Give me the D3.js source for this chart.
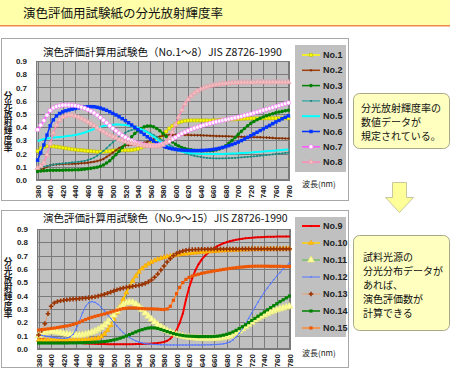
<!DOCTYPE html>
<html><head><meta charset="utf-8">
<script src="https://cdn.jsdelivr.net/npm/d3@7"></script>
<style>body{margin:0;background:#fff;} svg{display:block;}</style>
</head><body>
<svg id="c" width="450" height="375"></svg>
<script>
// ---------------- DATA ----------------
const headerTitle = "演色評価用試験紙の分光放射輝度率";
const topTitle = "演色評価計算用試験色（No.1～8）JIS Z8726-1990";
const bottomTitle = "演色評価計算用試験色（No.9～15）JIS Z8726-1990";
const yAxisTitle = "分光放射輝度率";
const xAxisTitle = "波長(nm)";
const topNote = ["分光放射輝度率の", "数値データが", "規定されている。"];
const bottomNote = ["試料光源の", "分光分布データが", "あれば、", "演色評価数が", "計算できる"];
const wavelengths = [380,385,390,395,400,405,410,415,420,425,430,435,440,445,450,455,460,465,470,475,480,485,490,495,500,505,510,515,520,525,530,535,540,545,550,555,560,565,570,575,580,585,590,595,600,605,610,615,620,625,630,635,640,645,650,655,660,665,670,675,680,685,690,695,700,705,710,715,720,725,730,735,740,745,750,755,760,765,770,775,780];
const xTickLabels = ["380","400","420","440","460","480","500","520","540","560","580","600","620","640","660","680","700","720","740","760","780"];
const yTickLabels = ["0.0","0.1","0.2","0.3","0.4","0.5","0.6","0.7","0.8","0.9"];
const topNames = ["No.1","No.2","No.3","No.4","No.5","No.6","No.7","No.8"];
const bottomNames = ["No.9","No.10","No.11","No.12","No.13","No.14","No.15"];

const no1 = [0.219,0.239,0.252,0.256,0.256,0.254,0.252,0.248,0.244,0.240,0.237,0.232,0.230,0.226,0.225,0.222,0.220,0.218,0.216,0.214,0.214,0.214,0.216,0.218,0.223,0.225,0.226,0.226,0.225,0.225,0.227,0.230,0.236,0.245,0.253,0.262,0.272,0.283,0.298,0.318,0.341,0.367,0.390,0.409,0.424,0.435,0.442,0.448,0.450,0.451,0.451,0.451,0.451,0.451,0.450,0.450,0.451,0.451,0.453,0.454,0.455,0.457,0.458,0.460,0.462,0.463,0.464,0.465,0.466,0.466,0.466,0.466,0.467,0.467,0.467,0.467,0.467,0.467,0.467,0.467,0.467];
const no2 = [0.070,0.079,0.089,0.101,0.111,0.116,0.118,0.120,0.121,0.122,0.122,0.122,0.123,0.124,0.127,0.128,0.131,0.134,0.138,0.143,0.150,0.159,0.174,0.190,0.207,0.225,0.242,0.253,0.260,0.264,0.267,0.269,0.272,0.276,0.282,0.289,0.299,0.309,0.322,0.329,0.335,0.339,0.341,0.341,0.342,0.342,0.342,0.341,0.341,0.339,0.339,0.338,0.338,0.337,0.336,0.335,0.334,0.332,0.332,0.331,0.331,0.330,0.329,0.328,0.328,0.327,0.326,0.325,0.324,0.324,0.324,0.323,0.322,0.321,0.320,0.318,0.316,0.315,0.315,0.314,0.314];
const no3 = [0.065,0.068,0.070,0.072,0.073,0.073,0.074,0.074,0.074,0.075,0.075,0.076,0.077,0.078,0.080,0.082,0.085,0.088,0.092,0.097,0.104,0.114,0.128,0.146,0.168,0.192,0.218,0.245,0.272,0.300,0.327,0.352,0.373,0.390,0.402,0.408,0.408,0.402,0.390,0.373,0.352,0.330,0.308,0.288,0.271,0.257,0.246,0.238,0.232,0.228,0.225,0.223,0.222,0.221,0.221,0.222,0.224,0.228,0.235,0.245,0.259,0.277,0.298,0.321,0.345,0.368,0.390,0.410,0.428,0.443,0.456,0.467,0.477,0.486,0.494,0.501,0.508,0.514,0.519,0.524,0.528];
const no4 = [0.085,0.093,0.100,0.106,0.111,0.116,0.120,0.123,0.125,0.128,0.130,0.133,0.135,0.138,0.141,0.145,0.151,0.159,0.170,0.184,0.201,0.220,0.241,0.263,0.285,0.306,0.326,0.343,0.358,0.370,0.378,0.382,0.383,0.380,0.374,0.365,0.354,0.341,0.327,0.312,0.297,0.282,0.267,0.253,0.240,0.228,0.217,0.207,0.198,0.190,0.183,0.178,0.174,0.170,0.167,0.165,0.164,0.163,0.163,0.164,0.164,0.165,0.166,0.168,0.169,0.171,0.173,0.175,0.177,0.179,0.181,0.184,0.186,0.189,0.191,0.194,0.197,0.200,0.202,0.205,0.207];
const no5 = [0.295,0.303,0.310,0.314,0.317,0.320,0.323,0.326,0.328,0.331,0.334,0.337,0.341,0.346,0.352,0.359,0.367,0.376,0.385,0.394,0.402,0.408,0.413,0.416,0.418,0.419,0.419,0.418,0.416,0.412,0.407,0.401,0.394,0.385,0.374,0.361,0.346,0.329,0.311,0.293,0.276,0.261,0.248,0.237,0.228,0.221,0.215,0.210,0.206,0.203,0.201,0.199,0.198,0.197,0.196,0.196,0.196,0.196,0.197,0.197,0.198,0.199,0.200,0.201,0.202,0.204,0.205,0.207,0.208,0.210,0.212,0.214,0.215,0.217,0.219,0.221,0.223,0.225,0.227,0.229,0.231];
const no6 = [0.150,0.205,0.265,0.340,0.410,0.455,0.485,0.503,0.515,0.523,0.530,0.536,0.541,0.546,0.550,0.552,0.554,0.555,0.554,0.550,0.544,0.536,0.527,0.516,0.504,0.492,0.478,0.464,0.449,0.433,0.416,0.399,0.381,0.363,0.345,0.327,0.310,0.294,0.280,0.268,0.257,0.248,0.241,0.235,0.231,0.228,0.226,0.224,0.223,0.222,0.222,0.222,0.223,0.224,0.226,0.228,0.231,0.235,0.240,0.246,0.252,0.260,0.268,0.277,0.287,0.298,0.310,0.322,0.335,0.348,0.361,0.374,0.387,0.400,0.413,0.426,0.439,0.451,0.463,0.474,0.485];
const no7 = [0.380,0.415,0.450,0.490,0.525,0.545,0.555,0.562,0.566,0.567,0.567,0.565,0.562,0.557,0.551,0.543,0.533,0.521,0.507,0.490,0.472,0.452,0.432,0.411,0.391,0.372,0.354,0.337,0.322,0.308,0.296,0.286,0.278,0.271,0.266,0.262,0.260,0.260,0.262,0.266,0.273,0.283,0.295,0.309,0.323,0.337,0.350,0.362,0.373,0.383,0.392,0.400,0.408,0.415,0.422,0.428,0.434,0.440,0.446,0.451,0.456,0.461,0.466,0.471,0.476,0.482,0.488,0.494,0.500,0.507,0.514,0.521,0.528,0.535,0.542,0.549,0.556,0.563,0.570,0.577,0.584];
const no8 = [0.090,0.105,0.130,0.190,0.275,0.355,0.415,0.453,0.475,0.487,0.491,0.490,0.484,0.475,0.464,0.452,0.439,0.425,0.410,0.395,0.380,0.366,0.352,0.339,0.327,0.316,0.306,0.297,0.289,0.282,0.276,0.271,0.267,0.263,0.260,0.257,0.255,0.254,0.254,0.257,0.265,0.283,0.315,0.362,0.418,0.476,0.529,0.574,0.609,0.636,0.657,0.673,0.686,0.696,0.704,0.711,0.716,0.721,0.725,0.728,0.730,0.732,0.734,0.735,0.736,0.737,0.737,0.738,0.738,0.738,0.739,0.739,0.739,0.739,0.739,0.739,0.739,0.739,0.739,0.739,0.739];
const no9 = [0.080,0.076,0.072,0.069,0.066,0.063,0.060,0.058,0.056,0.054,0.052,0.050,0.048,0.046,0.044,0.042,0.041,0.040,0.039,0.038,0.037,0.037,0.036,0.036,0.036,0.036,0.036,0.036,0.036,0.036,0.036,0.037,0.037,0.038,0.039,0.040,0.041,0.043,0.045,0.048,0.053,0.062,0.077,0.102,0.140,0.195,0.265,0.370,0.460,0.530,0.590,0.635,0.670,0.698,0.720,0.740,0.757,0.771,0.783,0.793,0.801,0.808,0.814,0.819,0.823,0.827,0.830,0.833,0.835,0.837,0.838,0.839,0.840,0.841,0.842,0.842,0.843,0.843,0.843,0.844,0.844];
const no10 = [0.066,0.066,0.067,0.067,0.068,0.068,0.068,0.068,0.068,0.068,0.068,0.068,0.068,0.069,0.069,0.070,0.071,0.073,0.076,0.082,0.093,0.112,0.140,0.178,0.223,0.272,0.323,0.374,0.423,0.468,0.510,0.547,0.578,0.603,0.623,0.639,0.652,0.663,0.672,0.680,0.687,0.693,0.698,0.702,0.706,0.709,0.712,0.715,0.717,0.720,0.722,0.724,0.726,0.728,0.730,0.732,0.734,0.735,0.737,0.738,0.740,0.741,0.742,0.743,0.744,0.745,0.746,0.747,0.748,0.749,0.749,0.750,0.750,0.751,0.751,0.752,0.752,0.752,0.753,0.753,0.753];
const no11 = [0.100,0.110,0.120,0.127,0.130,0.129,0.126,0.121,0.116,0.111,0.107,0.104,0.103,0.104,0.106,0.110,0.116,0.124,0.134,0.146,0.160,0.178,0.200,0.226,0.254,0.283,0.310,0.332,0.346,0.352,0.349,0.337,0.318,0.295,0.270,0.246,0.223,0.202,0.183,0.166,0.151,0.138,0.127,0.117,0.109,0.102,0.096,0.091,0.087,0.084,0.082,0.080,0.079,0.078,0.078,0.078,0.079,0.080,0.082,0.085,0.090,0.097,0.107,0.120,0.135,0.151,0.168,0.185,0.201,0.217,0.231,0.244,0.256,0.267,0.277,0.286,0.294,0.301,0.308,0.314,0.320];
const no12 = [0.105,0.102,0.098,0.094,0.090,0.086,0.083,0.081,0.080,0.082,0.090,0.110,0.150,0.210,0.270,0.320,0.348,0.355,0.350,0.335,0.312,0.286,0.258,0.229,0.200,0.172,0.146,0.123,0.103,0.086,0.072,0.061,0.052,0.046,0.041,0.038,0.036,0.034,0.033,0.032,0.031,0.031,0.030,0.030,0.030,0.030,0.030,0.030,0.030,0.030,0.030,0.030,0.030,0.031,0.031,0.032,0.033,0.034,0.036,0.039,0.044,0.053,0.068,0.090,0.118,0.152,0.190,0.230,0.271,0.312,0.352,0.390,0.425,0.458,0.490,0.520,0.548,0.574,0.598,0.620,0.645];
const no13 = [0.105,0.140,0.190,0.265,0.320,0.345,0.356,0.362,0.366,0.369,0.372,0.374,0.376,0.378,0.380,0.382,0.385,0.388,0.392,0.397,0.403,0.410,0.418,0.427,0.436,0.444,0.451,0.457,0.462,0.466,0.470,0.474,0.478,0.484,0.492,0.503,0.518,0.538,0.563,0.592,0.622,0.652,0.678,0.700,0.716,0.727,0.735,0.740,0.743,0.745,0.746,0.747,0.748,0.748,0.749,0.749,0.749,0.749,0.750,0.750,0.750,0.750,0.750,0.750,0.750,0.751,0.751,0.751,0.751,0.751,0.751,0.751,0.751,0.751,0.751,0.751,0.751,0.751,0.751,0.751,0.751];
const no14 = [0.045,0.045,0.045,0.045,0.045,0.045,0.045,0.045,0.045,0.045,0.046,0.046,0.046,0.047,0.047,0.048,0.049,0.050,0.051,0.052,0.054,0.056,0.059,0.063,0.068,0.074,0.081,0.089,0.098,0.108,0.118,0.128,0.137,0.145,0.152,0.157,0.159,0.158,0.154,0.147,0.139,0.131,0.123,0.116,0.110,0.105,0.101,0.098,0.096,0.095,0.094,0.093,0.093,0.093,0.093,0.093,0.094,0.096,0.099,0.104,0.110,0.118,0.128,0.140,0.153,0.167,0.182,0.198,0.214,0.230,0.246,0.262,0.278,0.294,0.310,0.325,0.340,0.355,0.369,0.383,0.397];
const no15 = [0.142,0.145,0.148,0.151,0.154,0.157,0.161,0.165,0.169,0.173,0.178,0.184,0.192,0.201,0.211,0.221,0.230,0.238,0.245,0.251,0.257,0.263,0.270,0.277,0.284,0.291,0.298,0.303,0.306,0.308,0.308,0.307,0.305,0.303,0.302,0.301,0.301,0.300,0.299,0.297,0.296,0.300,0.320,0.365,0.415,0.462,0.498,0.522,0.537,0.547,0.555,0.561,0.567,0.572,0.577,0.581,0.585,0.589,0.593,0.597,0.600,0.604,0.607,0.610,0.613,0.615,0.617,0.619,0.620,0.621,0.621,0.621,0.621,0.621,0.620,0.620,0.620,0.620,0.619,0.619,0.619];

const topValues = [no1,no2,no3,no4,no5,no6,no7,no8];
const bottomValues = [no9,no10,no11,no12,no13,no14,no15];

// ---------------- STYLES ----------------
const JP = "'Noto Sans CJK JP','Noto Sans',sans-serif";
const NUM = "'Liberation Sans',Arial,sans-serif";
const topStyles = [
  {line:"#FFFF00", w:1.5, sym:d3.symbolSquare, size:9, fill:"#FFFF00", stroke:"#B8B800"},
  {line:"#A0400A", w:1.5, sym:d3.symbolCross, size:4, fill:"#7A2A00", stroke:"none"},
  {line:"#008000", w:1.5, sym:d3.symbolCircle, size:10, fill:"#008000", stroke:"none"},
  {line:"#2AA5A0", w:1.2, sym:d3.symbolSquare, size:3, fill:"#1E7F7A", stroke:"none"},
  {line:"#00FFFF", w:2, sym:null},
  {line:"#0033FF", w:1.5, sym:d3.symbolSquare, size:12, fill:"#0033FF", stroke:"none"},
  {line:"#FF55FF", w:1.5, sym:d3.symbolCircle, size:14, fill:"#FFFFFF", stroke:"#FF66FF"},
  {line:"#FF88BB", w:1.5, sym:d3.symbolTriangle, size:12, fill:"#F4C0C0", stroke:"#E89AA8"}
];
const bottomStyles = [
  {line:"#FF0000", w:2, sym:d3.symbolSquare, size:2, fill:"#B00000", stroke:"none"},
  {line:"#FFD000", w:1.5, sym:d3.symbolTriangle, size:10, fill:"#FFCC00", stroke:"#FF9900"},
  {line:"#55BB44", w:1, sym:d3.symbolTriangle, size:22, fill:"#FFFF99", stroke:"#E8E880"},
  {line:"#5577FF", w:1, sym:d3.symbolSquare, size:2, fill:"#5577FF", stroke:"none"},
  {line:"#E8A070", w:1, sym:d3.symbolCross, size:12, fill:"#993300", stroke:"none"},
  {line:"#008000", w:1.5, sym:d3.symbolSquare, size:10, fill:"#008000", stroke:"none"},
  {line:"#FF8833", w:1.5, sym:d3.symbolSquare, size:10, fill:"#EE5500", stroke:"none"}
];

const svg = d3.select("#c");

// header band
svg.append("rect").attr("x",0).attr("y",0).attr("width",450).attr("height",25).attr("fill","#FFFFAA");
svg.append("rect").attr("x",0).attr("y",25).attr("width",450).attr("height",1.5).attr("fill","#EE8A50");
svg.append("text").attr("x",23).attr("y",18).attr("font-family",JP).attr("font-size",12.5).attr("fill","#111").text(headerTitle);

function drawChart(cfg){
  const g = svg.append("g");
  g.append("rect").attr("x",cfg.frame[0]+0.5).attr("y",cfg.frame[1]+0.5)
    .attr("width",cfg.frame[2]).attr("height",cfg.frame[3])
    .attr("fill","#fff").attr("stroke","#A8A8A8");
  g.append("text").attr("x",cfg.titleX).attr("y",cfg.titleY).attr("font-family",JP)
    .attr("font-size",10.5).attr("fill","#111").text(cfg.title);

  const x = d3.scaleLinear().domain([380,780]).range([cfg.left+1.6, cfg.right-1.6]);
  const y = d3.scaleLinear().domain([0,0.9]).range([cfg.bottom, cfg.top]);
  const yTicks = yTickLabels.map(Number);
  const xTicks = xTickLabels.map(Number);

  g.append("rect").attr("x",cfg.left).attr("y",cfg.top).attr("width",cfg.right-cfg.left)
    .attr("height",cfg.bottom-cfg.top).attr("fill","#C0C0C0");
  g.selectAll(".hg").data(yTicks).join("line")
    .attr("x1",cfg.left).attr("x2",cfg.right)
    .attr("y1",d=>Math.round(y(d))+0.5).attr("y2",d=>Math.round(y(d))+0.5)
    .attr("stroke","#7A7A7A").attr("stroke-width",1);
  g.selectAll(".vg").data(xTicks).join("line")
    .attr("y1",cfg.top).attr("y2",cfg.bottom)
    .attr("x1",d=>Math.round(x(d))+0.5).attr("x2",d=>Math.round(x(d))+0.5)
    .attr("stroke","#7A7A7A").attr("stroke-width",1);
  g.append("rect").attr("x",cfg.left+0.5).attr("y",cfg.top+0.5).attr("width",cfg.right-cfg.left-1)
    .attr("height",cfg.bottom-cfg.top-1).attr("fill","none").attr("stroke","#7A7A7A");

  // axes
  const ya = g.append("g").attr("transform",`translate(${cfg.left},0)`)
    .call(d3.axisLeft(y).tickValues(yTicks).tickFormat((d,i)=>yTickLabels[i]).tickSize(0).tickPadding(9));
  ya.select(".domain").remove();
  ya.selectAll("text").attr("font-family",NUM).attr("font-size",8).attr("font-weight","bold").attr("fill","#222");
  const xa = g.append("g").attr("transform",`translate(0,${cfg.bottom})`)
    .call(d3.axisBottom(x).tickValues(xTicks).tickFormat((d,i)=>xTickLabels[i]).tickSize(0));
  xa.select(".domain").remove();
  xa.selectAll("text").attr("transform","rotate(-90)").attr("text-anchor","end")
    .attr("x",-5).attr("y",0).attr("dy","0.33em")
    .attr("font-family",NUM).attr("font-size",8).attr("font-weight","bold").attr("fill","#222");

  // y axis title (vertical writing)
  g.append("text").attr("x",8).attr("y",cfg.yTitleMid)
    .attr("font-family",JP).attr("font-size",8.7).attr("font-weight","bold")
    .attr("fill","#222").attr("text-anchor","middle")
    .style("writing-mode","vertical-rl").text(yAxisTitle);

  // series
  const line = d3.line().x((d,i)=>x(wavelengths[i])).y(d=>y(d));
  cfg.values.forEach((vals,k)=>{
    const st = cfg.styles[k];
    g.append("path").attr("d",line(vals)).attr("fill","none").attr("stroke",st.line).attr("stroke-width",st.w);
    if(st.sym){
      const sp = d3.symbol().type(st.sym).size(st.size)();
      g.append("g").selectAll("path").data(vals).join("path")
        .attr("transform",(d,i)=>`translate(${x(wavelengths[i])},${y(d)})`)
        .attr("d",sp).attr("fill",st.fill).attr("stroke",st.stroke).attr("stroke-width",0.6);
    }
  });

  // legend
  const L = cfg.legend;
  g.append("rect").attr("x",L.x).attr("y",L.y).attr("width",L.w).attr("height",L.h).attr("fill","#C0C0C0");
  cfg.names.forEach((nm,k)=>{
    const st = cfg.styles[k];
    const cy = L.first + k*L.step;
    g.append("line").attr("x1",302).attr("x2",320).attr("y1",cy).attr("y2",cy).attr("stroke",st.line).attr("stroke-width",st.w);
    if(st.sym){
      g.append("path").attr("transform",`translate(311,${cy})`).attr("d",d3.symbol().type(st.sym).size(st.size)())
        .attr("fill",st.fill).attr("stroke",st.stroke).attr("stroke-width",0.6);
    }
    g.append("text").attr("x",323).attr("y",cy+3).attr("font-family",NUM).attr("font-size",9)
      .attr("font-weight","bold").attr("fill","#222").text(nm);
  });
  g.append("text").attr("x",302).attr("y",cfg.xTitleY).attr("font-family",JP).attr("font-size",8)
    .attr("fill","#222").text(xAxisTitle);
}

drawChart({frame:[1,38,347,162], title:topTitle, titleX:43, titleY:56,
  left:36, right:290, top:61, bottom:180, yTitleMid:122,
  values:topValues, styles:topStyles, names:topNames,
  legend:{x:295,y:45,w:51,h:127,first:55,step:15.3}, xTitleY:187});
drawChart({frame:[1,210,347,157], title:bottomTitle, titleX:43, titleY:222,
  left:37, right:291, top:229, bottom:349, yTitleMid:288,
  values:bottomValues, styles:bottomStyles, names:bottomNames,
  legend:{x:295,y:217,w:51,h:120,first:226,step:17}, xTitleY:356});

// note boxes
function note(x0,y0,w,h,lines,tx,ty,step){
  svg.append("rect").attr("x",x0+0.5).attr("y",y0+0.5).attr("width",w).attr("height",h).attr("rx",6)
    .attr("fill","#FFFFC0").attr("stroke","#A8A888");
  const t = svg.append("text").attr("font-family",JP).attr("font-size",10).attr("fill","#111");
  lines.forEach((s,i)=>t.append("tspan").attr("x",tx).attr("y",ty+i*step).text(s));
}
note(353,93,96,55,topNote,361,112,14);
note(353,235,96,95,bottomNote,363,261,14);

// arrow
svg.append("path").attr("d","M392.5,182.5 L406.5,182.5 L406.5,197.5 L413.5,197.5 L399.5,212.5 L385.5,197.5 L392.5,197.5 Z")
  .attr("fill","#FFFF99").attr("stroke","#C8C8A0");
</script>
</body></html>
